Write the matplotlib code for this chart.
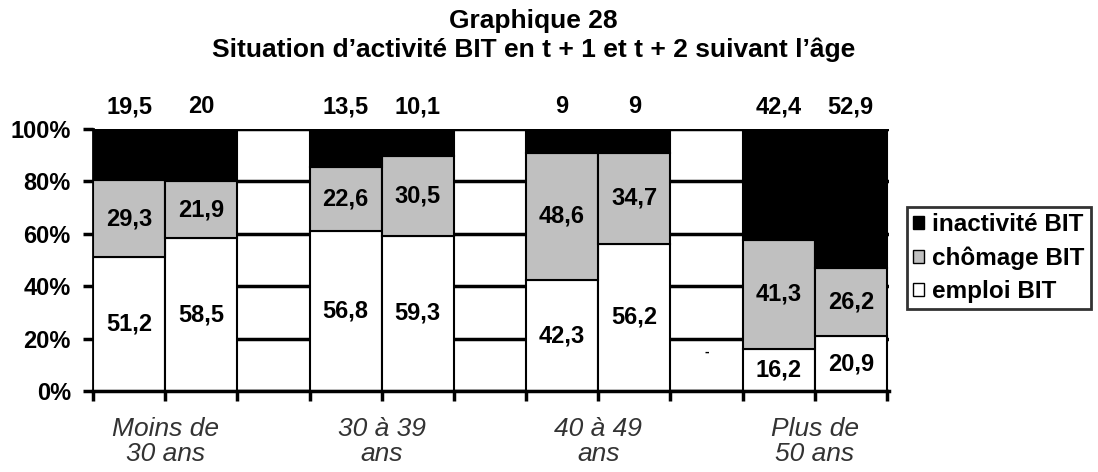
import numpy as np
import matplotlib.pyplot as plt
from matplotlib.patches import Patch

# Données (t+1, t+2 pour chaque tranche d'âge)
groupes = ['Moins de\n30 ans', '30 à 39\nans', '40 à 49\nans', 'Plus de\n50 ans']
emploi = [51.2, 58.5, 56.8, 59.3, 42.3, 56.2, 16.2, 20.9]
chomage = [29.3, 21.9, 22.6, 30.5, 48.6, 34.7, 41.3, 26.2]
inactivite = [19.5, 20, 13.5, 10.1, 9, 9, 42.4, 52.9]
lab_emploi = ['51,2', '58,5', '56,8', '59,3', '42,3', '56,2', '16,2', '20,9']
lab_chomage = ['29,3', '21,9', '22,6', '30,5', '48,6', '34,7', '41,3', '26,2']
lab_inact = ['19,5', '20', '13,5', '10,1', '9', '9', '42,4', '52,9']

# Positions des barres: deux barres par groupe, une case vide entre groupes
pos = np.array([0, 1, 3, 4, 6, 7, 9, 10])

emp = np.array(emploi)
cho = np.array(chomage)
ina = np.array(inactivite)
tot = emp + cho + ina
emp_p = emp / tot * 100
cho_p = cho / tot * 100
ina_p = ina / tot * 100

fig = plt.figure(figsize=(10.98, 4.72), dpi=100)
ax = fig.add_axes([0.0847, 0.1716, 0.725, 0.555])

bold = dict(family='Liberation Sans', fontweight='bold')

ax.bar(pos, emp_p, width=1, color='white', edgecolor='black', linewidth=1.5, zorder=3)
ax.bar(pos, cho_p, width=1, bottom=emp_p, color='#c0c0c0', edgecolor='black', linewidth=1.5, zorder=3)
ax.bar(pos, ina_p, width=1, bottom=emp_p + cho_p, color='black', edgecolor='black', linewidth=1.5, zorder=3)

for i, x in enumerate(pos):
    ax.text(x, emp_p[i] / 2, lab_emploi[i], ha='center', va='center', fontsize=17, zorder=5, **bold)
    ax.text(x, emp_p[i] + cho_p[i] / 2, lab_chomage[i], ha='center', va='center', fontsize=17, zorder=5, **bold)
    ax.text(x, 108.5, lab_inact[i], ha='center', va='center', fontsize=17, clip_on=False, **bold)

# petit tiret isolé présent sur l'original
ax.text(8, 15, '-', ha='center', va='center', fontsize=10, **bold)

ax.set_xlim(-0.5, 10.53)
ax.set_ylim(0, 100)
ax.set_yticks([0, 20, 40, 60, 80, 100])
ax.set_yticklabels(['0%', '20%', '40%', '60%', '80%', '100%'], fontsize=17, **bold)
ax.yaxis.grid(True, color='black', linewidth=2.5, zorder=0)
ax.set_axisbelow(True)

ax.set_xticks(np.arange(-0.5, 11, 1))
ax.set_xticklabels([])
ax.tick_params(axis='both', direction='out', length=7, width=2.5, color='black')
ax.tick_params(axis='y', pad=9)

for g, xc in zip(groupes, [0.5, 3.5, 6.5, 9.5]):
    ax.text(xc, -0.1, g, transform=ax.get_xaxis_transform(), ha='center', va='top',
            fontsize=19, style='italic', color='#333333', linespacing=1.02,
            family='Liberation Sans')

for s in ['top', 'right']:
    ax.spines[s].set_visible(False)
ax.spines['bottom'].set_linewidth(2.5)
ax.spines['left'].set_linewidth(2)
ax.spines['bottom'].set_zorder(4)

handles = [Patch(facecolor='black', edgecolor='black', label='inactivité BIT'),
           Patch(facecolor='#c0c0c0', edgecolor='black', label='chômage BIT'),
           Patch(facecolor='white', edgecolor='black', label='emploi BIT')]
leg = fig.legend(handles=handles, loc='upper left', bbox_to_anchor=(0.826, 0.561),
                 prop={'family': 'Liberation Sans', 'weight': 'bold', 'size': 17.5},
                 frameon=True, fancybox=False, edgecolor='black',
                 handlelength=0.45, handleheight=0.45, handletextpad=0.35,
                 borderpad=0.25, labelspacing=0.42, borderaxespad=0)
leg.get_frame().set_linewidth(2)

fig.text(0.486, 1 - 28 / 472, 'Graphique 28', ha='center', va='baseline', fontsize=19, **bold)
fig.text(0.486, 1 - 57 / 472, 'Situation d\u2019activité BIT en t + 1 et t + 2 suivant l\u2019âge',
         ha='center', va='baseline', fontsize=19, **bold)

fig.savefig('out.png', dpi=100)
